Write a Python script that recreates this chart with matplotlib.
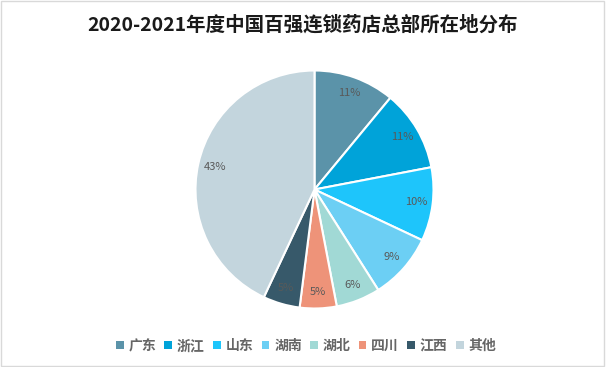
import matplotlib.pyplot as plt
from matplotlib.patches import Rectangle

plt.rcParams['font.family'] = ['Noto Sans CJK SC', 'DejaVu Sans']

provinces = ['广东', '浙江', '山东', '湖南', '湖北', '四川', '江西', '其他']
shares = [11, 11, 10, 9, 6, 5, 5, 43]
colors = ['#5b93a9', '#00a3d9', '#1ec5fb', '#6ccff4', '#a1d9d5', '#ee9379', '#37596a', '#c3d5dd']

fig = plt.figure(figsize=(6.06, 3.67), dpi=100)
# pie centre and radius in pixels
cx, cy, r = 314.5 / 606, 1 - 189.5 / 367, 119
ax = fig.add_axes([cx - r / 606, cy - r / 367, 2 * r / 606, 2 * r / 367])

wedges, texts, autotexts = ax.pie(
    shares, colors=colors, startangle=90, counterclock=False,
    autopct='%d%%', pctdistance=0.86,
    wedgeprops=dict(edgecolor='white', linewidth=1.5),
    textprops=dict(color='#595959', fontsize=8))
ax.set_aspect('auto')
ax.set_xlim(-1, 1)
ax.set_ylim(-1, 1)

fig.text(0.5, 0.932, '2020-2021年度中国百强连锁药店总部所在地分布',
         ha='center', va='center', fontsize=14, fontweight='bold', color='#1a1a1a')

leg = fig.legend(wedges, provinces, loc='center', bbox_to_anchor=(0.505, 0.057),
                 ncol=8, frameon=False, handlelength=0.55, handleheight=0.55,
                 handletextpad=0.35, columnspacing=0.6,
                 prop=dict(size=10, weight='bold'))
for t in leg.get_texts():
    t.set_color('#666666')
for h in leg.legend_handles:
    h.set_edgecolor('none')

fig.patches.append(Rectangle((0.002, 0.003), 0.995, 0.994, transform=fig.transFigure,
                             fill=False, edgecolor='#d9d9d9', linewidth=1))

fig.savefig('out.png', dpi=100)
